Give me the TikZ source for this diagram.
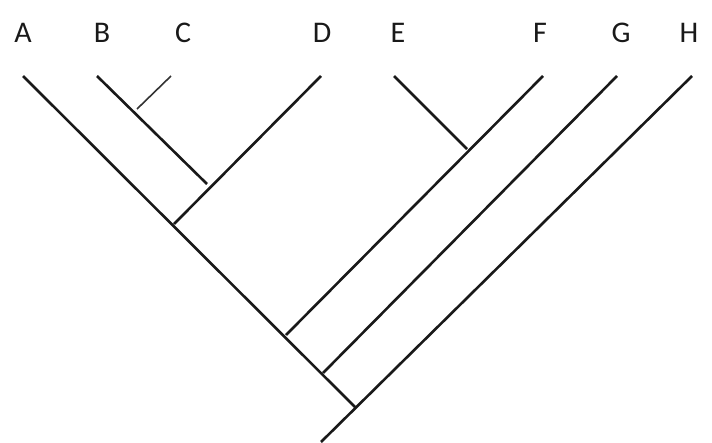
\documentclass[tikz,border=0pt]{standalone}
\usepackage{fontspec}
\setmainfont{Carlito}
\begin{document}
\begin{tikzpicture}[x=1pt,y=-1pt,
  lbl/.style={font=\fontsize{30}{30}\selectfont, text=black!90, inner sep=0pt, anchor=center},
  br/.style={line width=2.6pt, black!90},
  thin/.style={line width=1.6pt, black!80}]
\useasboundingbox (0,0) rectangle (712,442);
% labels
\node[lbl] (lA) at (23,33) {A};
\node[lbl] (lB) at (102,33) {B};
\node[lbl] (lC) at (183,33) {C};
\node[lbl] (lD) at (322,33) {D};
\node[lbl] (lE) at (398,33) {E};
\node[lbl] (lF) at (540,33) {F};
\node[lbl] (lG) at (621,33) {G};
\node[lbl] (lH) at (689,33) {H};
% tips
\coordinate (tA) at (23,76);
\coordinate (tB) at (97,76);
\coordinate (tC) at (171,76);
\coordinate (tD) at (321,76);
\coordinate (tE) at (394,76);
\coordinate (tF) at (543,76);
\coordinate (tG) at (617,76);
\coordinate (tH) at (692,76);
% junctions
\coordinate (jBC) at (137,109);
\coordinate (jBD) at (207,184);
\coordinate (jAD) at (174,224);
\coordinate (jEF) at (467,149);
\coordinate (jAF) at (286,335);
\coordinate (jAG) at (323,373);
\coordinate (jAH) at (356,408);
\coordinate (root) at (321,442);
% branches
\draw[br] (tA) -- (jAH);
\draw[br] (tB) -- (jBD);
\draw[thin] (tC) -- (jBC);
\draw[br] (tD) -- (jAD);
\draw[br] (tE) -- (jEF);
\draw[br] (tF) -- (jAF);
\draw[br] (tG) -- (jAG);
\draw[br] (tH) -- (root);
\end{tikzpicture}
\end{document}
